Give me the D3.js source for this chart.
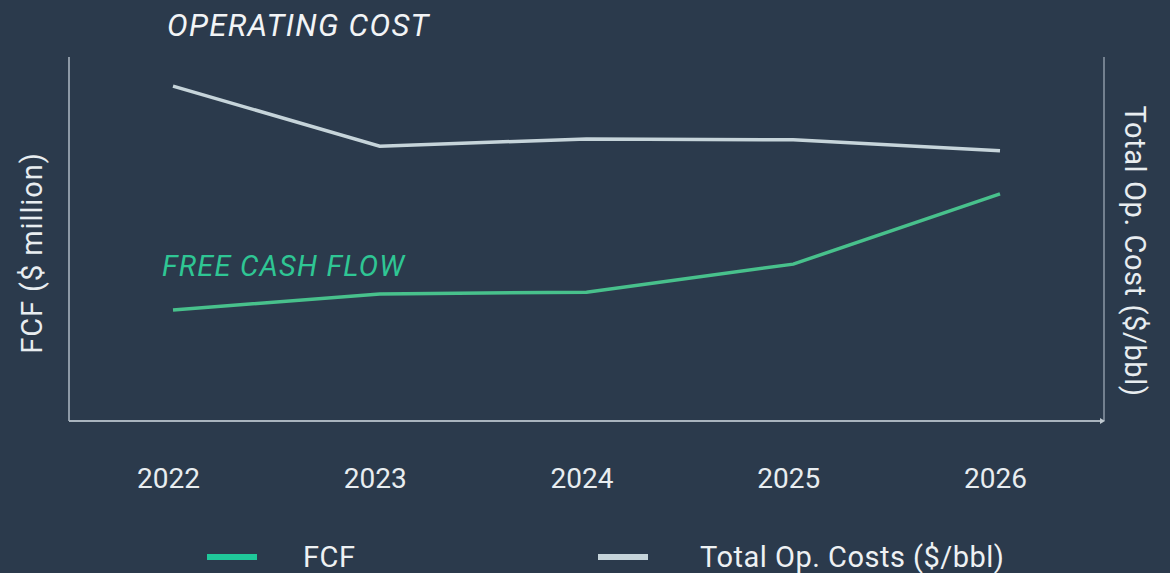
<!DOCTYPE html>
<html><head><meta charset="utf-8">
<script src="https://cdn.jsdelivr.net/npm/d3@7"></script>
<style>
html,body{margin:0;padding:0;background:#2b3a4c;}
svg{display:block;}
text{font-family:Roboto,"Noto Sans",sans-serif;}
</style></head>
<body>
<svg id="c" width="1170" height="573"></svg>
<script>
const years = ["2022","2023","2024","2025","2026"];
const fcf = [305, 349, 354, 431, 624];          // $ million (estimated)
const opCost = [36.8, 30.2, 31.0, 30.9, 29.7];  // $/bbl (estimated)
const legendLabels = ["FCF", "Total Op. Costs ($/bbl)"];

(function () {
const svg = d3.select("#c");
const W = 1170, H = 573;
const pLeft = 69, pRight = 1104, pTop = 57, pBottom = 421;

svg.append("rect").attr("width", W).attr("height", H).attr("fill", "#2b3a4c");

const x = d3.scalePoint().domain(years).range([173, 1000]);
const yL = d3.scaleLinear().domain([0, 1000]).range([pBottom, pTop]);
const yR = d3.scaleLinear().domain([0, 40]).range([pBottom, pTop]);

const axisCol = "#8d99a6";
svg.append("line").attr("x1", pLeft).attr("x2", pLeft).attr("y1", pTop).attr("y2", pBottom)
  .attr("stroke", axisCol).attr("stroke-width", 2);
svg.append("line").attr("x1", pRight).attr("x2", pRight).attr("y1", pTop).attr("y2", pBottom)
  .attr("stroke", axisCol).attr("stroke-width", 1.5);
svg.append("line").attr("x1", pLeft).attr("x2", pRight - 2).attr("y1", pBottom).attr("y2", pBottom)
  .attr("stroke", "#a9b4be").attr("stroke-width", 2);
svg.append("path").attr("d", `M${pRight-4},${pBottom-3}L${pRight+1},${pBottom}L${pRight-4},${pBottom+3}Z`)
  .attr("fill", "#c0c9d0");

const xAxis = d3.axisBottom(x).tickSize(0).tickPadding(0);
const gx = svg.append("g").attr("transform", `translate(0,${pBottom})`).call(xAxis);
gx.select(".domain").remove();
gx.selectAll("text").attr("x", -5).attr("y", 67).attr("dy", 0)
  .attr("fill", "#e8edf0").attr("font-size", 28)
  .style("font-family", "Roboto, sans-serif");

const lineL = d3.line().x((d, i) => x(years[i])).y(d => yL(d));
const lineR = d3.line().x((d, i) => x(years[i])).y(d => yR(d));
svg.append("path").datum(opCost).attr("d", lineR).attr("fill", "none")
  .attr("stroke", "#c6d4da").attr("stroke-width", 3.5);
svg.append("path").datum(fcf).attr("d", lineL).attr("fill", "none")
  .attr("stroke", "#48c18c").attr("stroke-width", 3.5);

svg.append("text").attr("x", 167).attr("y", 36).text("OPERATING COST")
  .attr("fill", "#f2f4f6").attr("font-size", 31).attr("font-style", "italic")
  .attr("letter-spacing", 1.3);
svg.append("text").attr("x", 162).attr("y", 276).text("FREE CASH FLOW")
  .attr("fill", "#2fc694").attr("font-size", 29).attr("font-style", "italic")
  .attr("letter-spacing", 1.2);

svg.append("text").attr("transform", "translate(42,253) rotate(-90)")
  .attr("text-anchor", "middle").text("FCF ($ million)")
  .attr("fill", "#e8edf0").attr("font-size", 29).attr("letter-spacing", 0.9);
svg.append("text").attr("transform", "translate(1125,251) rotate(90)")
  .attr("text-anchor", "middle").text("Total Op. Cost ($/bbl)")
  .attr("fill", "#e8edf0").attr("font-size", 29).attr("letter-spacing", 0.6);

const legCols = ["#1fc89a", "#c6d4da"];
const legX = [207, 598];
const textX = [303, 700];
legendLabels.forEach((lab, i) => {
  svg.append("rect").attr("x", legX[i]).attr("y", 554).attr("width", 50).attr("height", 6)
    .attr("fill", legCols[i]);
  svg.append("text").attr("x", textX[i]).attr("y", 567).text(lab)
    .attr("fill", "#eef1f3").attr("font-size", 29).attr("letter-spacing", 0.5);
});
})();
</script>
</body></html>
